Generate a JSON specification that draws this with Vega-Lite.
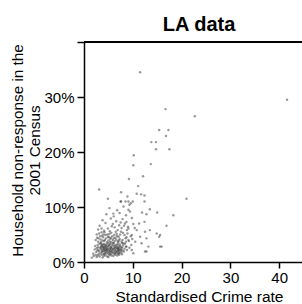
{
 "$schema": "https://vega.github.io/schema/vega-lite/v6.json",
 "autosize": "none",
 "width": 218,
 "height": 220,
 "padding": {"left": 84, "top": 42, "right": 0, "bottom": 42},
 "background": "white",
 "config": {
  "font": "Liberation Sans",
  "view": {"stroke": null},
  "axis": {"grid": false, "domainColor": "#000", "domainWidth": 1.5, "tickColor": "#000", "tickWidth": 1.5, "labelColor": "#000", "titleColor": "#000"}
 },
 "title": {"text": "LA data", "fontSize": 20, "fontWeight": "bold", "anchor": "middle", "dx": 6, "dy": 21, "baseline": "alphabetic", "offset": 11, "color": "#000"},
 "data": {"values": [
  {"c":41.6,"r":0.295},{"c":11.5,"r":0.345},{"c":16.7,"r":0.278},{"c":22.7,"r":0.265},{"c":15.4,"r":0.24},{"c":17.3,"r":0.24},{"c":16.8,"r":0.229},{"c":13.8,"r":0.218},{"c":14.75,"r":0.218},{"c":14.75,"r":0.205},{"c":17.5,"r":0.205},{"c":10.2,"r":0.194},{"c":10.1,"r":0.176},{"c":13.7,"r":0.178},{"c":9.2,"r":0.151},{"c":12.1,"r":0.156},{"c":11.1,"r":0.138},{"c":3.1,"r":0.132},{"c":7.6,"r":0.127},{"c":8.9,"r":0.119},{"c":10.8,"r":0.124},{"c":11.7,"r":0.123},{"c":12.4,"r":0.121},{"c":4.9,"r":0.115},{"c":21,"r":0.115},{"c":7.6,"r":0.11},{"c":9.1,"r":0.11},{"c":10,"r":0.11},{"c":12.4,"r":0.11},{"c":9.3,"r":0.104},{"c":13.5,"r":0.096},{"c":11.9,"r":0.09},{"c":15,"r":0.09},{"c":18.3,"r":0.085},{"c":16.9,"r":0.066},{"c":15.9,"r":0.028},{"c":12.8,"r":0.019},{"c":15.4,"r":0.046},
  {"c":9.1,"r":0.095},{"c":12.8,"r":0.087},{"c":8.7,"r":0.073},{"c":10.1,"r":0.069},{"c":11.3,"r":0.07},{"c":12.4,"r":0.073},{"c":9.1,"r":0.061},{"c":10.8,"r":0.058},{"c":12.5,"r":0.055},{"c":13.5,"r":0.058},{"c":14.9,"r":0.052},{"c":15.6,"r":0.049},{"c":9.8,"r":0.049},{"c":11.5,"r":0.046},{"c":12.8,"r":0.043},{"c":9.1,"r":0.04},{"c":10.5,"r":0.037},{"c":11.8,"r":0.034},{"c":13.2,"r":0.028},{"c":8.7,"r":0.028},{"c":15.6,"r":0.028},{"c":9.8,"r":0.022},{"c":12.5,"r":0.019},{"c":10.1,"r":0.016},
  {"c":7.5,"r":0.11},{"c":8.5,"r":0.11},{"c":9.6,"r":0.107},
  {"c":5.2,"r":0.098},{"c":6.8,"r":0.094},{"c":8.1,"r":0.101},{"c":7.3,"r":0.089},{"c":9.4,"r":0.092},{"c":4.6,"r":0.087},{"c":6.1,"r":0.083},{"c":8.6,"r":0.085},{"c":5.5,"r":0.079},{"c":7.9,"r":0.078},{"c":3.8,"r":0.076},{"c":6.6,"r":0.074},{"c":9.8,"r":0.08},{"c":4.4,"r":0.071},{"c":5.9,"r":0.069},{"c":7.2,"r":0.067},{"c":8.4,"r":0.07},{"c":3.2,"r":0.066},{"c":6.3,"r":0.063},{"c":9.0,"r":0.064},{"c":4.9,"r":0.061},{"c":5.7,"r":0.065},{"c":7.7,"r":0.062},{"c":2.9,"r":0.059},{"c":8.8,"r":0.058},{"c":6.9,"r":0.058},{"c":4.1,"r":0.057},{"c":10.4,"r":0.062},{"c":5.3,"r":0.056},{"c":3.6,"r":0.061},{"c":7.5,"r":0.072},{"c":6.0,"r":0.088},{"c":8.2,"r":0.066},
  {"c":3.1,"r":0.052},{"c":3.7,"r":0.048},{"c":4.2,"r":0.054},{"c":4.8,"r":0.05},{"c":5.1,"r":0.045},{"c":5.6,"r":0.053},{"c":6.2,"r":0.049},{"c":6.7,"r":0.051},{"c":7.1,"r":0.046},{"c":7.6,"r":0.055},{"c":8.3,"r":0.049},{"c":8.9,"r":0.052},{"c":2.7,"r":0.044},{"c":3.4,"r":0.041},{"c":3.9,"r":0.045},{"c":4.5,"r":0.043},{"c":5.0,"r":0.039},{"c":5.4,"r":0.042},{"c":5.9,"r":0.04},{"c":6.4,"r":0.044},{"c":6.9,"r":0.038},{"c":7.3,"r":0.042},{"c":7.9,"r":0.04},{"c":8.5,"r":0.043},{"c":9.2,"r":0.038},{"c":2.9,"r":0.037},{"c":3.5,"r":0.036},{"c":4.1,"r":0.038},{"c":4.7,"r":0.036},{"c":5.3,"r":0.037},{"c":6.0,"r":0.035},{"c":6.6,"r":0.041},{"c":7.0,"r":0.036},{"c":7.7,"r":0.037},{"c":8.1,"r":0.034},{"c":3.3,"r":0.047},{"c":4.4,"r":0.049},{"c":5.8,"r":0.047},{"c":6.5,"r":0.055},{"c":7.4,"r":0.05},{"c":8.7,"r":0.045},{"c":9.6,"r":0.047},{"c":2.4,"r":0.04},{"c":3.8,"r":0.039},{"c":4.9,"r":0.046},{"c":5.6,"r":0.036},{"c":6.3,"r":0.038},{"c":7.2,"r":0.039},{"c":2.6,"r":0.05},{"c":3.0,"r":0.043},{"c":4.0,"r":0.05},{"c":5.2,"r":0.051},{"c":6.1,"r":0.043},{"c":6.8,"r":0.047},{"c":8.0,"r":0.053},{"c":4.3,"r":0.04},{"c":5.5,"r":0.044},{"c":3.6,"r":0.054},{"c":9.9,"r":0.042},{"c":8.6,"r":0.037},
  {"c":2.8,"r":0.031},{"c":3.2,"r":0.033},{"c":3.5,"r":0.029},{"c":3.8,"r":0.032},{"c":4.0,"r":0.027},{"c":4.2,"r":0.03},{"c":4.4,"r":0.025},{"c":4.6,"r":0.028},{"c":4.8,"r":0.023},{"c":5.0,"r":0.026},{"c":5.2,"r":0.031},{"c":5.4,"r":0.024},{"c":5.6,"r":0.028},{"c":5.8,"r":0.021},{"c":6.0,"r":0.03},{"c":6.2,"r":0.026},{"c":6.4,"r":0.022},{"c":6.6,"r":0.027},{"c":6.8,"r":0.024},{"c":7.0,"r":0.021},{"c":7.2,"r":0.025},{"c":7.4,"r":0.029},{"c":7.6,"r":0.022},{"c":7.8,"r":0.026},{"c":8.0,"r":0.03},{"c":8.3,"r":0.024},{"c":8.6,"r":0.028},{"c":2.6,"r":0.025},{"c":3.0,"r":0.022},{"c":3.3,"r":0.026},{"c":3.6,"r":0.021},{"c":3.9,"r":0.024},{"c":4.1,"r":0.02},{"c":4.3,"r":0.022},{"c":4.5,"r":0.019},{"c":4.7,"r":0.021},{"c":4.9,"r":0.018},{"c":5.1,"r":0.02},{"c":5.3,"r":0.017},{"c":5.5,"r":0.021},{"c":5.7,"r":0.018},{"c":5.9,"r":0.024},{"c":6.1,"r":0.019},{"c":6.3,"r":0.017},{"c":6.5,"r":0.02},{"c":6.7,"r":0.018},{"c":6.9,"r":0.02},{"c":7.1,"r":0.017},{"c":7.3,"r":0.019},{"c":7.5,"r":0.023},{"c":7.7,"r":0.018},{"c":7.9,"r":0.021},{"c":8.2,"r":0.019},{"c":3.4,"r":0.034},{"c":3.7,"r":0.031},{"c":4.1,"r":0.033},{"c":4.5,"r":0.032},{"c":4.9,"r":0.034},{"c":5.3,"r":0.033},{"c":5.7,"r":0.032},{"c":6.1,"r":0.034},{"c":6.5,"r":0.031},{"c":6.9,"r":0.033},{"c":7.3,"r":0.032},{"c":7.8,"r":0.034},{"c":2.9,"r":0.027},{"c":3.1,"r":0.019},{"c":3.4,"r":0.016},{"c":3.7,"r":0.018},{"c":4.0,"r":0.015},{"c":4.3,"r":0.017},{"c":4.6,"r":0.016},{"c":5.0,"r":0.015},{"c":5.4,"r":0.019},{"c":5.8,"r":0.016},{"c":6.2,"r":0.015},{"c":6.6,"r":0.016},{"c":7.0,"r":0.015},{"c":7.4,"r":0.016},{"c":2.5,"r":0.018},{"c":2.7,"r":0.021},{"c":3.5,"r":0.024},{"c":3.9,"r":0.028},{"c":4.2,"r":0.026},{"c":4.7,"r":0.025},{"c":4.4,"r":0.029},{"c":5.1,"r":0.029},{"c":5.5,"r":0.027},{"c":6.0,"r":0.023},{"c":6.3,"r":0.029},{"c":6.8,"r":0.03},{"c":7.1,"r":0.028},{"c":7.6,"r":0.027},{"c":4.6,"r":0.022},{"c":4.1,"r":0.023},{"c":3.6,"r":0.027},{"c":5.2,"r":0.023},{"c":6.4,"r":0.025},{"c":7.0,"r":0.024},{"c":7.2,"r":0.022},{"c":6.9,"r":0.026},{"c":4.8,"r":0.03},{"c":3.8,"r":0.02},{"c":5.6,"r":0.025},{"c":8.8,"r":0.022},{"c":9.3,"r":0.026},{"c":9.7,"r":0.031},{"c":8.4,"r":0.033},{"c":2.3,"r":0.029},{"c":2.2,"r":0.023},
  {"c":1.6,"r":0.008},{"c":2.0,"r":0.011},{"c":2.4,"r":0.013},{"c":2.8,"r":0.012},{"c":3.2,"r":0.01},{"c":3.6,"r":0.013},{"c":4.0,"r":0.011},{"c":4.4,"r":0.012},{"c":4.8,"r":0.01},{"c":5.2,"r":0.013},{"c":5.6,"r":0.012},{"c":6.0,"r":0.011},{"c":6.4,"r":0.013},{"c":3.0,"r":0.014},{"c":4.2,"r":0.014},{"c":5.4,"r":0.014},{"c":6.8,"r":0.012},{"c":7.2,"r":0.013},{"c":2.6,"r":0.009},{"c":3.8,"r":0.008},{"c":5.0,"r":0.009},{"c":7.8,"r":0.014},{"c":1.9,"r":0.015}
 ]},
 "layer": [
  {
   "mark": {"type": "circle", "size": 6, "color": "#333", "opacity": 0.5},
   "encoding": {
    "x": {"field": "c", "type": "quantitative", "scale": {"domain": [0, 44.67], "nice": false},
     "axis": {"values": [0, 10, 20, 30, 40], "labelFontSize": 15, "tickSize": 6, "labelPadding": 2, "labelFlush": false,
      "title": "Standardised Crime rate", "titleFontSize": 15.5, "titleFontWeight": "normal", "titleX": 115, "titleY": 39, "titleBaseline": "alphabetic", "titleAlign": "center"}},
    "y": {"field": "r", "type": "quantitative", "scale": {"domain": [0, 0.4], "nice": false},
     "axis": {"values": [0, 0.1, 0.2, 0.3, 0.4], "format": ".0%", "labelExpr": "datum.value >= 0.4 ? '' : datum.label", "labelFontSize": 15, "tickSize": 7, "labelPadding": 3, "labelFlush": false,
      "title": ["Household non-response in the", "2001 Census"], "titleFontSize": 15.3, "titleFontWeight": "normal", "titleX": -62, "titleY": 108, "titleBaseline": "alphabetic", "titleAlign": "center", "titleLineHeight": 17}}
   }
  },
  {"mark": {"type": "rule", "color": "#000", "strokeWidth": 1.5}, "encoding": {"y": {"datum": 0.4}}}
 ]
}
